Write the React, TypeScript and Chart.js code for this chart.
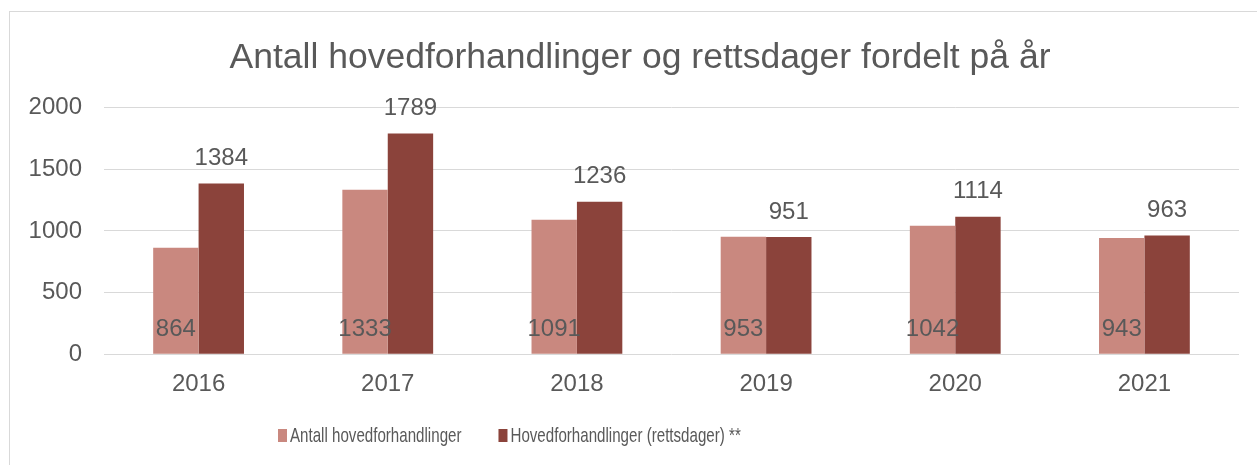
import React, { useEffect, useRef } from "react";
import { Chart, registerables } from "chart.js";

Chart.register(...registerables);

const years = ["2016", "2017", "2018", "2019", "2020", "2021"];
const antallHovedforhandlinger = [864, 1333, 1091, 953, 1042, 943];
const rettsdager = [1384, 1789, 1236, 951, 1114, 963];
const seriesNames = ["Antall hovedforhandlinger", "Hovedforhandlinger (rettsdager) **"];
const seriesColors = ["#C9887F", "#8B433B"];
const titleText = "Antall hovedforhandlinger og rettsdager fordelt på år";

const TEXT = "#595959";
const FONT = "'Liberation Sans', Arial, sans-serif";

const labelPlugin = {
  id: "barLabels",
  afterDatasetsDraw(chart: any) {
    const ctx = chart.ctx;
    ctx.save();
    ctx.font = `24px ${FONT}`;
    ctx.fillStyle = TEXT;
    ctx.textAlign = "center";
    ctx.textBaseline = "middle";
    chart.data.datasets.forEach((ds: any, di: number) => {
      const meta = chart.getDatasetMeta(di);
      meta.data.forEach((el: any, i: number) => {
        const v = ds.data[i];
        if (di === 0) {
          ctx.fillText(String(v), el.x, el.base - 24);
        } else {
          ctx.fillText(String(v), el.x, el.y - 25);
        }
      });
    });
    ctx.restore();
  },
};

const titlePlugin = {
  id: "centeredTitle",
  afterDraw(chart: any) {
    const ctx = chart.ctx;
    ctx.save();
    ctx.font = `35.5px ${FONT}`;
    ctx.fillStyle = TEXT;
    ctx.textAlign = "center";
    ctx.textBaseline = "middle";
    ctx.fillText(titleText, chart.width / 2, 46);
    ctx.restore();
  },
};

const legendPlugin = {
  id: "customLegend",
  afterDraw(chart: any) {
    const ctx = chart.ctx;
    const xScale = chart.scales.x;
    const y = xScale.bottom + 21;
    const scaleX = 0.72;
    let x = 268;
    ctx.save();
    ctx.font = `21px ${FONT}`;
    ctx.textBaseline = "middle";
    ctx.textAlign = "left";
    chart.data.datasets.forEach((ds: any) => {
      ctx.fillStyle = ds.backgroundColor;
      ctx.fillRect(x, y - 7, 9, 13);
      const tx = x + 12;
      const w = ctx.measureText(ds.label).width * scaleX;
      ctx.save();
      ctx.translate(tx, y);
      ctx.scale(scaleX, 1);
      ctx.fillStyle = TEXT;
      ctx.fillText(ds.label, 0, 0);
      ctx.restore();
      x = tx + w + 37;
    });
    ctx.restore();
  },
};

export default function App() {
  const ref = useRef<HTMLCanvasElement | null>(null);
  useEffect(() => {
    if (!ref.current) return;
    const chart = new Chart(ref.current, {
      type: "bar",
      data: {
        labels: years,
        datasets: [
          { label: seriesNames[0], data: antallHovedforhandlinger, backgroundColor: seriesColors[0] },
          { label: seriesNames[1], data: rettsdager, backgroundColor: seriesColors[1] },
        ],
      },
      options: {
        animation: false,
        responsive: false,
        maintainAspectRatio: false,
        layout: { padding: { left: 0, right: 31, top: 95.6, bottom: 50 } },
        datasets: { bar: { categoryPercentage: 0.48, barPercentage: 1 } },
        plugins: {
          legend: { display: false },
          tooltip: { enabled: false },
          title: { display: false },
        },
        scales: {
          x: {
            grid: { display: false, drawTicks: false },
            border: { display: false },
            ticks: { color: TEXT, font: { family: FONT, size: 24 }, padding: 16 },
          },
          y: {
            min: 0,
            max: 2000,
            afterFit: (s: any) => { s.width = 94; },
            grid: { color: "#D9D9D9", lineWidth: 1, drawTicks: false },
            border: { display: false },
            ticks: {
              stepSize: 500,
              color: TEXT,
              font: { family: FONT, size: 24 },
              padding: 22,
              callback: (v: any) => String(v),
            },
          },
        },
      },
      plugins: [labelPlugin, titlePlugin, legendPlugin],
    });
    return () => chart.destroy();
  }, []);
  return (
    <div style={{ position: "fixed", inset: 0, overflow: "hidden", background: "#fff" }}>
      <div
        style={{
          position: "absolute",
          left: 9,
          top: 11,
          borderLeft: "1px solid #D9D9D9",
          borderTop: "1px solid #D9D9D9",
          width: 1260,
          height: 460,
        }}
      >
        <canvas ref={ref} width={1260} height={453} style={{ display: "block", width: 1260, height: 453 }} />
      </div>
    </div>
  );
}
